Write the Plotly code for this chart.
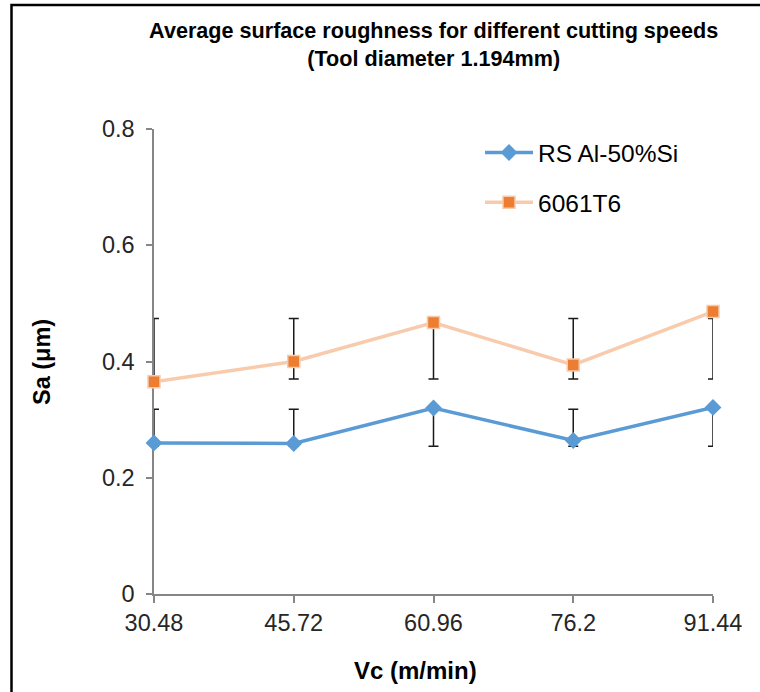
import plotly.graph_objects as go

# ---- data ----
vc = [30.48, 45.72, 60.96, 76.2, 91.44]
vc_labels = ["30.48", "45.72", "60.96", "76.2", "91.44"]
sa_rs = [0.260, 0.259, 0.320, 0.264, 0.321]
sa_6061 = [0.365, 0.400, 0.467, 0.394, 0.486]
# error bar extents (as drawn in the original chart)
err_rs_low = [0.254, 0.254, 0.254, 0.254, 0.254]
err_rs_high = [0.318, 0.318, 0.318, 0.318, 0.318]
err_6061_low = [0.370, 0.370, 0.370, 0.370, 0.370]
err_6061_high = [0.474, 0.474, 0.474, 0.474, 0.474]
y_ticks = [0, 0.2, 0.4, 0.6, 0.8]
y_tick_labels = ["0", "0.2", "0.4", "0.6", "0.8"]

W, H = 760, 692
L, R, T, B = 154, 47, 129, 98
PW, PH = W - L - R, H - T - B


def xp(px):
    return (px - L) / PW


def yp(py):
    return (H - B - py) / PH


FONT = "Liberation Sans, Arial, sans-serif"
BLUE = "#5B9BD5"
ORANGE = "#ED7D31"
PEACH = "#F8CBAD"
AXIS = "#868686"

fig = go.Figure()


def err_trace(lo, hi):
    mid = [(a + b) / 2 for a, b in zip(lo, hi)]
    half = [(b - a) / 2 for a, b in zip(lo, hi)]
    return go.Scatter(
        x=vc, y=mid, mode="markers",
        marker=dict(size=1, opacity=0),
        error_y=dict(type="data", array=half, symmetric=True,
                     color="#1a1a1a", thickness=1.5, width=5),
        showlegend=False, hoverinfo="skip", cliponaxis=False,
    )


fig.add_trace(err_trace(err_rs_low, err_rs_high))
fig.add_trace(err_trace(err_6061_low, err_6061_high))

fig.add_trace(go.Scatter(
    x=vc, y=sa_rs, mode="lines+markers", name="RS Al-50%Si",
    line=dict(color=BLUE, width=3.5),
    marker=dict(symbol="diamond", size=13, color=BLUE),
    cliponaxis=False, legendgroup="a",
))
fig.add_trace(go.Scatter(
    x=vc, y=sa_6061, mode="lines+markers", name="6061T6",
    line=dict(color=PEACH, width=3.5),
    marker=dict(symbol="square", size=12, color=ORANGE,
                line=dict(color=PEACH, width=1.5)),
    cliponaxis=False, legendgroup="b",
))

fig.update_layout(
    width=W, height=H,
    margin=dict(l=L, r=R, t=T, b=B),
    paper_bgcolor="white", plot_bgcolor="white",
    font=dict(family=FONT, color="#262626", size=23),
    title=dict(
        text="<b>Average surface roughness for different cutting speeds<br>(Tool diameter 1.194mm)</b>",
        x=433.7 / W, xanchor="center", xref="container",
        y=1 - 38 / H, yanchor="middle", yref="container",
        font=dict(family=FONT, size=21.6, color="#000000"),
    ),
    xaxis=dict(
        range=[vc[0], vc[-1]],
        tickvals=vc, ticktext=vc_labels,
        showline=True, linecolor=AXIS, linewidth=1.5,
        ticks="outside", ticklen=7, tickcolor=AXIS, tickwidth=1.5,
        showgrid=False, zeroline=False, layer="below traces",
        tickfont=dict(size=23.5, color="#262626"),
    ),
    yaxis=dict(
        range=[0, 0.8],
        tickvals=y_ticks, ticktext=y_tick_labels,
        showline=True, linecolor=AXIS, linewidth=1.5,
        ticks="outside", ticklen=6, tickcolor=AXIS, tickwidth=1.5,
        showgrid=False, zeroline=False, layer="below traces",
        tickfont=dict(size=23.5, color="#262626"),
        ticklabelstandoff=7,
    ),
    legend=dict(
        x=xp(480), y=yp(130), xanchor="left", yanchor="top",
        font=dict(size=24.5, color="#000000"),
        tracegroupgap=15, itemwidth=48,
        bgcolor="rgba(0,0,0,0)",
    ),
    annotations=[
        dict(text="<b>Sa (μm)</b>", x=xp(42), y=yp(362), xref="paper", yref="paper",
             textangle=-90, showarrow=False, xanchor="center", yanchor="middle",
             font=dict(family=FONT, size=23.5, color="#000000")),
        dict(text="<b>Vc (m/min)</b>", x=xp(415), y=yp(670), xref="paper", yref="paper",
             showarrow=False, xanchor="center", yanchor="middle",
             font=dict(family=FONT, size=24, color="#000000")),
    ],
    shapes=[
        dict(type="path", xref="paper", yref="paper",
             path=f"M {xp(11.5)},{yp(720)} L {xp(11.5)},{yp(5)} L {xp(790)},{yp(5)}",
             line=dict(color="#000000", width=2.5)),
    ],
)

fig.write_html("out.html")
